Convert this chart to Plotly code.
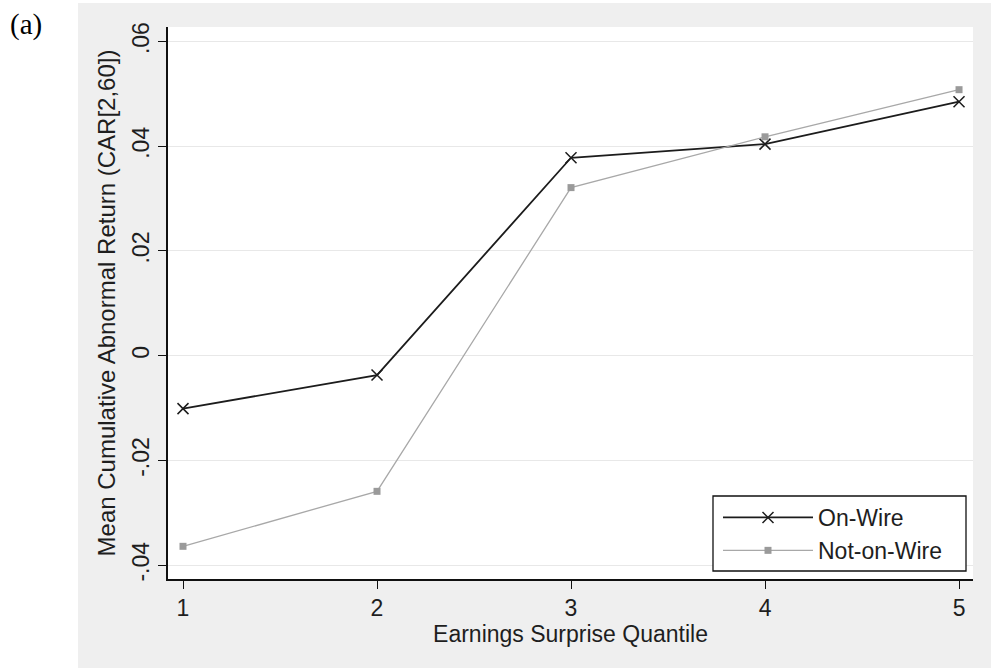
import plotly.graph_objects as go

quantiles = [1, 2, 3, 4, 5]
on_wire = [-0.0101, -0.0037, 0.0378, 0.0404, 0.0485]
not_on_wire = [-0.0364, -0.0259, 0.0321, 0.0418, 0.0508]
series_names = ["On-Wire", "Not-on-Wire"]
y_ticks = [-0.04, -0.02, 0.0, 0.02, 0.04, 0.06]
y_tick_labels = ["-.04", "-.02", "0", ".02", ".04", ".06"]
x_title = "Earnings Surprise Quantile"
y_title = "Mean Cumulative Abnormal Return (CAR[2,60])"
panel_label = "(a)"

W, H = 991, 668
L, R, T, B = 168, 18, 27, 89
pw, ph = W - L - R, H - T - B

def px_x(x):
    return (x - L) / pw

def px_y(y):
    return (H - B - y) / ph

font_family = "Liberation Sans, Arial, sans-serif"
text_color = "#1e1e1e"

fig = go.Figure()
fig.add_trace(go.Scatter(
    x=quantiles, y=on_wire, name=series_names[0], mode="lines+markers",
    line=dict(color="#1c1c1c", width=1.8),
    marker=dict(symbol="x-thin", size=11, line=dict(color="#1c1c1c", width=1.5)),
))
fig.add_trace(go.Scatter(
    x=quantiles, y=not_on_wire, name=series_names[1], mode="lines+markers",
    line=dict(color="#a8a8a8", width=1.3),
    marker=dict(symbol="square", size=7, color="#9a9a9a"),
))

# outer grey graph region and white plot region
fig.add_shape(type="rect", xref="paper", yref="paper", layer="below",
              x0=px_x(78), x1=px_x(W), y0=px_y(H), y1=px_y(3),
              fillcolor="#efefef", line=dict(width=0))
fig.add_shape(type="rect", xref="paper", yref="paper", layer="below",
              x0=0, x1=1, y0=0, y1=1,
              fillcolor="#ffffff", line=dict(width=0))
# legend frame
fig.add_shape(type="rect", xref="paper", yref="paper", layer="above",
              x0=px_x(713), x1=px_x(966), y0=px_y(571), y1=px_y(496),
              fillcolor="#ffffff", line=dict(color="#111111", width=1.3))

fig.add_annotation(text=panel_label, xref="paper", yref="paper",
                   x=px_x(26), y=px_y(24), xanchor="center", yanchor="middle",
                   showarrow=False,
                   font=dict(family="Liberation Serif, Times New Roman, serif", size=29, color="#000000"))

fig.update_layout(
    width=W, height=H,
    margin=dict(l=L, r=R, t=T, b=B, autoexpand=False),
    paper_bgcolor="#ffffff", plot_bgcolor="#ffffff",
    font=dict(family=font_family, size=23, color=text_color),
    showlegend=True,
    legend=dict(
        x=px_x(718), y=px_y(496), xanchor="left", yanchor="top",
        bgcolor="rgba(0,0,0,0)", borderwidth=0,
        font=dict(size=23, color=text_color), itemwidth=90,
        tracegroupgap=0,
    ),
)
fig.update_xaxes(
    range=[0.9227, 5.072], tickvals=quantiles, ticktext=[str(q) for q in quantiles],
    showgrid=False, zeroline=False, showline=True, linecolor="#111111", linewidth=1.5,
    ticks="outside", ticklen=8, tickwidth=1.3, tickcolor="#111111",
    tickfont=dict(size=23, color=text_color),
    title=dict(text=x_title, font=dict(size=23, color=text_color), standoff=2),
)
fig.update_yaxes(
    range=[-0.04264, 0.06277], tickvals=y_ticks, ticktext=y_tick_labels, tickangle=-90,
    showgrid=True, gridcolor="#e8e8e8", gridwidth=1.2, zeroline=False,
    showline=True, linecolor="#111111", linewidth=1.5,
    ticks="outside", ticklen=8, tickwidth=1.3, tickcolor="#111111",
    tickfont=dict(size=23, color=text_color),
    title=dict(text=y_title, font=dict(size=24, color=text_color), standoff=6),
)

fig.write_html("out.html", config={"displayModeBar": False},
               post_script="document.body.style.margin='0px';")
